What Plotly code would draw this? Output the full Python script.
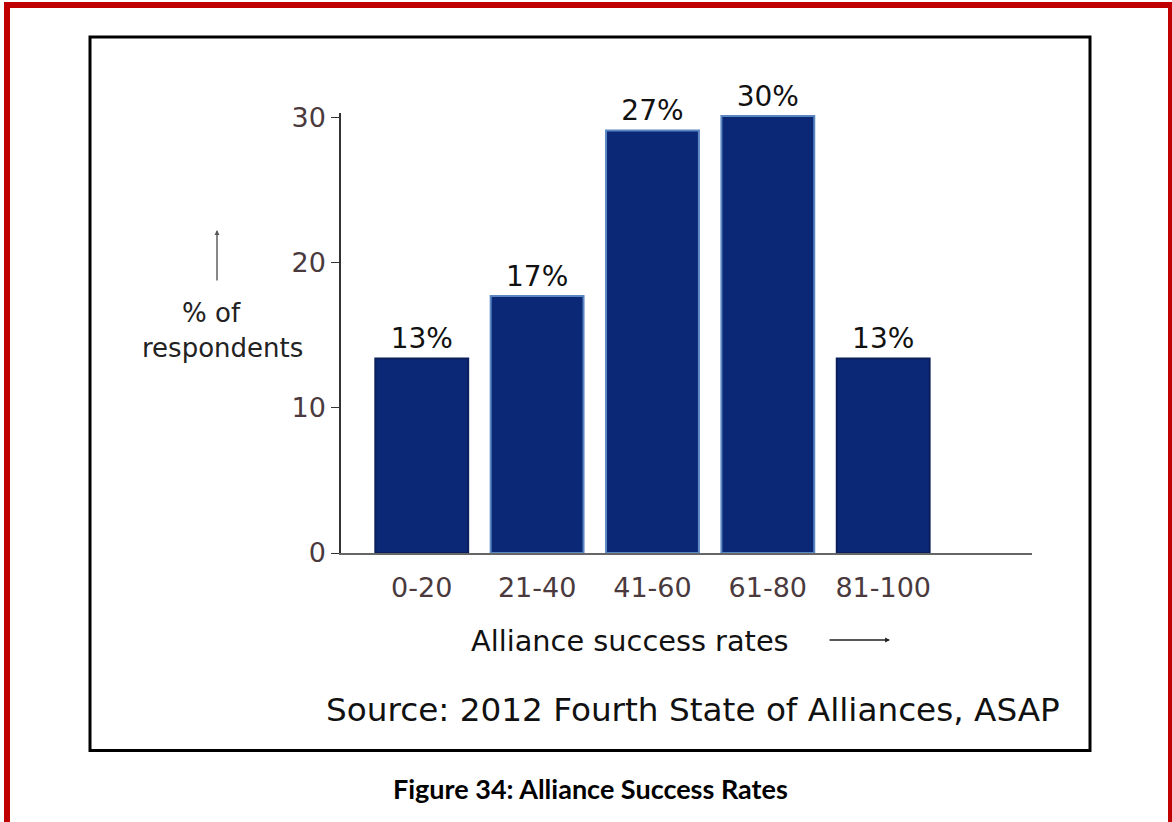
import plotly.graph_objects as go

# ---- data ----
categories = ["0-20", "21-40", "41-60", "61-80", "81-100"]
bar_heights = [13.4, 17.7, 29.1, 30.1, 13.4]
bar_labels = ["13%", "17%", "27%", "30%", "13%"]
y_ticks = [0, 10, 20, 30]
y_tick_labels = ["0", "10", "20", "30"]

# ---- layout geometry (pixels) ----
W, H = 1172, 822
Y_MAX = 30.3
L, R, B = 341, 1032, 553
PX_PER_UNIT = (553 - 117) / 30.0
T = round(B - Y_MAX * PX_PER_UNIT)


def fx(px):
    return (px - L) / (R - L)


def fy(py):
    return (B - py) / (B - T)


FONT = "DejaVu Sans"
TICK_COLOR = "#4a3a3e"
BAR_FILL = "#0b2877"
edge_colors = ["#0a1f5c", "#5a86c2", "#5a86c2", "#5a86c2", "#0a1f5c"]

fig = go.Figure()
fig.add_trace(go.Bar(
    x=categories,
    y=bar_heights,
    text=bar_labels,
    textposition="outside",
    textfont=dict(family=FONT, size=28, color="#111111"),
    constraintext="none",
    cliponaxis=False,
    width=0.805,
    marker=dict(color=BAR_FILL, line=dict(color=edge_colors, width=2)),
    hoverinfo="skip",
))


def label(text, x, y, size, family=FONT, color="#111111"):
    return dict(text=text, x=fx(x), y=fy(y), xref="paper", yref="paper",
                xanchor="center", yanchor="middle", showarrow=False,
                font=dict(family=family, size=size, color=color))


annotations = [
    label("% of", 211, 313, 26, color="#222222"),
    label("respondents", 222, 348, 26, color="#222222"),
    dict(text="", x=fx(217), y=fy(230), xref="paper", yref="paper",
         showarrow=True, ax=0, ay=52, arrowhead=2, arrowsize=0.7,
         arrowwidth=1.4, arrowcolor="#555555"),
    label("Alliance success rates", 630, 641, 28.8),
    dict(text="", x=fx(890), y=fy(640), xref="paper", yref="paper",
         showarrow=True, ax=-62, ay=0, arrowhead=2, arrowsize=0.7,
         arrowwidth=1.4, arrowcolor="#222222"),
    label("Source: 2012 Fourth State of Alliances, ASAP", 693, 710, 32.7),
    label("<b>Figure 34: Alliance Success Rates</b>", 590, 788, 27,
          family="Lato", color="#000000"),
]

shapes = [
    dict(type="rect", xref="paper", yref="paper",
         x0=fx(7), x1=fx(1171), y0=fy(900), y1=fy(5),
         line=dict(color="#c00000", width=6), fillcolor="rgba(0,0,0,0)"),
    dict(type="rect", xref="paper", yref="paper",
         x0=fx(90), x1=fx(1090), y0=fy(750.5), y1=fy(37),
         line=dict(color="#000000", width=3), fillcolor="rgba(0,0,0,0)"),
]

fig.update_layout(
    width=W, height=H,
    margin=dict(l=L, r=W - R, t=T, b=H - B, pad=0),
    paper_bgcolor="white", plot_bgcolor="white",
    showlegend=False,
    font=dict(family=FONT),
    xaxis=dict(
        type="category", range=[-0.7, 5.29],
        showline=True, linecolor="#666666", linewidth=1.5,
        ticks="", showgrid=False, zeroline=False,
        tickfont=dict(family=FONT, size=27, color=TICK_COLOR),
        ticklabelstandoff=10,
    ),
    yaxis=dict(
        range=[0, Y_MAX], tickvals=y_ticks, ticktext=y_tick_labels,
        ticks="outside", ticklen=8, tickwidth=1.2, tickcolor="#333333",
        showline=True, linecolor="#333333", linewidth=1.5,
        showgrid=False, zeroline=False,
        tickfont=dict(family=FONT, size=27, color=TICK_COLOR),
    ),
    yaxis2=dict(
        overlaying="y", side="left", range=[0, Y_MAX], tickvals=y_ticks,
        ticks="inside", ticklen=8, tickwidth=1.2, tickcolor="#333333",
        showticklabels=False, showline=False, showgrid=False, zeroline=False,
    ),
    annotations=annotations,
    shapes=shapes,
)

fig.write_html("out.html", config={"displayModeBar": False},
               post_script="document.body.style.margin='0';")
